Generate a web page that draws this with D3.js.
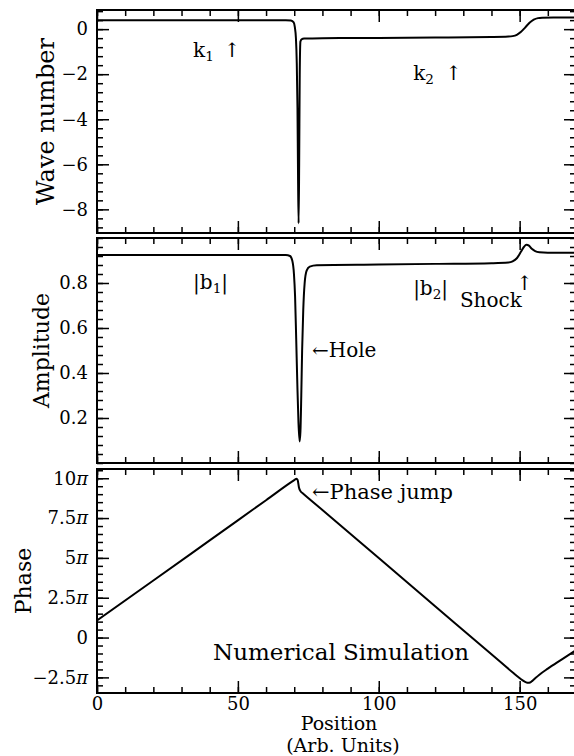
<!DOCTYPE html>
<html>
<head>
<meta charset="utf-8">
<script src="https://cdn.jsdelivr.net/npm/d3@7/dist/d3.min.js"></script>
<style>
    body { margin: 0; background: #fff; }
    svg { font-family: "DejaVu Serif", serif; }
</style>
</head>
<body>
<script>

// ---- data ----
const positionTicks = [0, 50, 100, 150]

const waveTicks = [-8, -6, -4, -2, 0]
const waveX = [0, 20, 40, 60, 67, 68.8, 69.8, 70.2, 70.6, 70.9, 71.15, 71.35, 71.55, 71.75, 71.95, 72.2, 72.6, 73.5, 80, 100, 120, 140, 146, 147.5, 149, 150.5, 152, 153.5, 155, 156.5, 158, 162, 170]
const waveK = [0.40, 0.40, 0.40, 0.40, 0.40, 0.38, 0.30, 0.10, -0.40, -1.5, -3.5, -6.5, -8.62, -6.0, -2.0, -0.55, -0.45, -0.42, -0.40, -0.39, -0.37, -0.35, -0.33, -0.31, -0.25, -0.12, 0.08, 0.28, 0.42, 0.49, 0.51, 0.52, 0.52]

const ampTicks = [0.2, 0.4, 0.6, 0.8]
const ampX = [0, 30, 60, 67, 68.5, 69.3, 69.9, 70.3, 70.7, 71.1, 71.5, 71.9, 72.2, 72.5, 72.8, 73.2, 73.7, 74.4, 75.5, 78, 100, 120, 140, 146, 147.5, 149, 150.5, 151.5, 152.4, 153.3, 154.3, 155.5, 157, 160, 170]
const ampB = [0.925, 0.925, 0.925, 0.924, 0.92, 0.90, 0.84, 0.74, 0.55, 0.35, 0.18, 0.096, 0.14, 0.30, 0.50, 0.68, 0.80, 0.855, 0.873, 0.879, 0.882, 0.885, 0.888, 0.891, 0.896, 0.91, 0.94, 0.96, 0.97, 0.966, 0.952, 0.942, 0.937, 0.935, 0.935]

const phaseTicks = [-2.5, 0, 2.5, 5, 7.5, 10]   // in units of pi
const phaseX = [0, 20, 40, 60, 70.0, 70.8, 71.2, 71.7, 72.3, 73.0, 80, 100, 120, 140, 148, 149.5, 150.5, 151.5, 152.3, 153.0, 153.7, 154.5, 155.5, 157, 160, 165, 170]
const phasePi = [1.07, 3.58, 6.10, 8.62, 9.88, 9.97, 9.90, 9.40, 9.17, 9.06, 8.01, 4.99, 1.97, -1.05, -2.26, -2.48, -2.62, -2.74, -2.81, -2.84, -2.82, -2.72, -2.56, -2.33, -1.95, -1.37, -0.79]


window.onload = function(){
    const svg = d3.select('body').append('svg')
        .attr('width', 574)
        .attr('height', 756)

    svg.append('rect').attr('width', 574).attr('height', 756).attr('fill', '#fff')

    const x = d3.scaleLinear().domain([0, 170]).range([97, 576])

    const wave = new panel({
        id: 'wave', x: x, top: 10, bottom: 233,
        domain: [-9.05, 0.85], ticks: waveTicks, minorStep: 0.4,
        format: d => d === 0 ? '0' : ('' + d).replace('-', '\u2212'),
        xs: waveX, ys: waveK,
        title: 'Wave number', titleX: 54, titleSize: 24
    })
    const amp = new panel({
        id: 'amp', x: x, top: 238, bottom: 463,
        domain: [0, 1], ticks: ampTicks, minorStep: 0.04,
        format: d3.format('.1f'),
        xs: ampX, ys: ampB,
        title: 'Amplitude', titleX: 49, titleSize: 22
    })
    const phase = new panel({
        id: 'phase', x: x, top: 469, bottom: 693,
        domain: [-3.48, 10.58], ticks: phaseTicks, minorStep: 0.5,
        format: d => d === 0 ? '0' : ('' + d).replace('-', '\u2212') + '\u03c0',
        xs: phaseX, ys: phasePi,
        title: 'Phase', titleX: 31, titleSize: 22,
        xLabels: true
    })

    wave.render(svg)
    amp.render(svg)
    phase.render(svg)

    // annotations
    wave.label(34.1, -1.23, [['k'], ['1', 'sub']])
    wave.label(45.0, -1.23, [['\u2191']])
    wave.label(112.2, -2.26, [['k'], ['2', 'sub']])
    wave.label(123.6, -2.26, [['\u2191']])

    amp.label(34.1, 0.772, [['|b'], ['1', 'sub'], ['|']])
    amp.label(112.2, 0.746, [['|b'], ['2', 'sub'], ['|']])
    amp.label(128.8, 0.692, [['Shock']])
    amp.label(148.8, 0.77, [['\u2191']])
    amp.label(76.3, 0.469, [['\u2190Hole']])

    phase.label(76.3, 8.70, [['\u2190Phase jump']], 21)
    phase.label(41.2, -1.41, [['Numerical Simulation']], 23)

    svg.append('text')
        .attr('x', 339).attr('y', 730)
        .attr('text-anchor', 'middle')
        .style('font-size', '19px')
        .text('Position')
    svg.append('text')
        .attr('x', 343).attr('y', 752)
        .attr('text-anchor', 'middle')
        .style('font-size', '19px')
        .text('(Arb. Units)')
}


class panel {

    constructor(opts){
        Object.assign(this, opts)
        this.y = d3.scaleLinear().domain(this.domain).range([this.bottom, this.top])
    }

    minorValues(){
        const lo = Math.ceil(this.domain[0] / this.minorStep)
        const hi = Math.floor(this.domain[1] / this.minorStep)
        return d3.range(lo, hi + 1).map(i => +(i * this.minorStep).toFixed(4))
    }

    render(svg){
        const x = this.x
        const y = this.y
        const left = x.range()[0]
        const right = x.range()[1]
        const g = svg.append('g').attr('class', 'panel ' + this.id)

        g.append('clipPath').attr('id', 'clip-' + this.id)
            .append('rect')
            .attr('x', left).attr('y', this.top)
            .attr('width', right - left).attr('height', this.bottom - this.top)

        const xMinor = d3.range(0, 171, 10)

        // y axes, ticks pointing inward
        const yl = this.axis(g, d3.axisLeft(y).tickValues(this.ticks).tickSize(-12).tickPadding(9).tickFormat(this.format), left, 0)
        this.axis(g, d3.axisLeft(y).tickValues(this.minorValues()).tickSize(-6).tickFormat(''), left, 0)
        this.axis(g, d3.axisRight(y).tickValues(this.ticks).tickSize(-12).tickFormat(''), right, 0)
        this.axis(g, d3.axisRight(y).tickValues(this.minorValues()).tickSize(-6).tickFormat(''), right, 0)

        // italic pi in tick labels
        yl.selectAll('text').each(function(){
            const s = this.textContent
            if(s.endsWith('\u03c0')){
                const t = d3.select(this).text(s.slice(0, -1))
                t.append('tspan').style('font-style', 'italic').text('\u03c0')
            }
        })

        // x axes
        this.axis(g, d3.axisTop(x).tickValues(positionTicks).tickSize(-12).tickFormat(''), 0, this.top)
        this.axis(g, d3.axisTop(x).tickValues(xMinor).tickSize(-6).tickFormat(''), 0, this.top)
        this.axis(g, d3.axisBottom(x).tickValues(positionTicks).tickSize(-12).tickPadding(4)
            .tickFormat(this.xLabels ? d3.format('d') : ''), 0, this.bottom)
        this.axis(g, d3.axisBottom(x).tickValues(xMinor).tickSize(-6).tickFormat(''), 0, this.bottom)

        g.append('rect')
            .attr('x', left).attr('y', this.top)
            .attr('width', right - left).attr('height', this.bottom - this.top)
            .attr('fill', 'none')
            .attr('stroke', '#000')
            .attr('stroke-width', 2)

        const pts = this.xs.map((v, i) => [v, this.ys[i]])
        const line = d3.line()
            .x(d => x(d[0]))
            .y(d => y(d[1]))
            .curve(d3.curveMonotoneX)

        g.append('path')
            .datum(pts)
            .attr('clip-path', 'url(#clip-' + this.id + ')')
            .attr('d', line)
            .attr('fill', 'none')
            .attr('stroke', '#000')
            .attr('stroke-width', 2)
            .attr('stroke-linejoin', 'round')

        g.append('text')
            .attr('transform', d3Helper.getTranslateString(this.titleX, (this.top + this.bottom) / 2) + ' rotate(-90)')
            .attr('text-anchor', 'middle')
            .style('font-size', this.titleSize + 'px')
            .text(this.title)

        this.g = g
    }

    axis(g, ax, tx, ty){
        const a = g.append('g')
            .attr('transform', d3Helper.getTranslateString(tx, ty))
            .call(ax)
        a.select('.domain').remove()
        a.selectAll('line').attr('stroke', '#000').attr('stroke-width', 1.5)
        a.selectAll('text')
            .attr('fill', '#000')
            .style('font-family', '"DejaVu Serif", serif')
            .style('font-size', '18px')
        return a
    }

    label(px, py, parts, size = 20){
        const t = this.g.append('text')
            .attr('x', this.x(px))
            .attr('y', this.y(py))
            .style('font-size', size + 'px')
        parts.forEach((p, i) => {
            const s = t.append('tspan').text(p[0])
            if(p[1] === 'sub'){
                s.style('font-size', (size * 0.68) + 'px').attr('dy', 4)
            } else if(i > 0){
                s.attr('dy', -4)
            }
        })
    }
}

class d3Helper {
    static getTranslateString(x, y){
        return "translate(" + x + "," + y + ")"
    }
}
</script>
</body>
</html>
